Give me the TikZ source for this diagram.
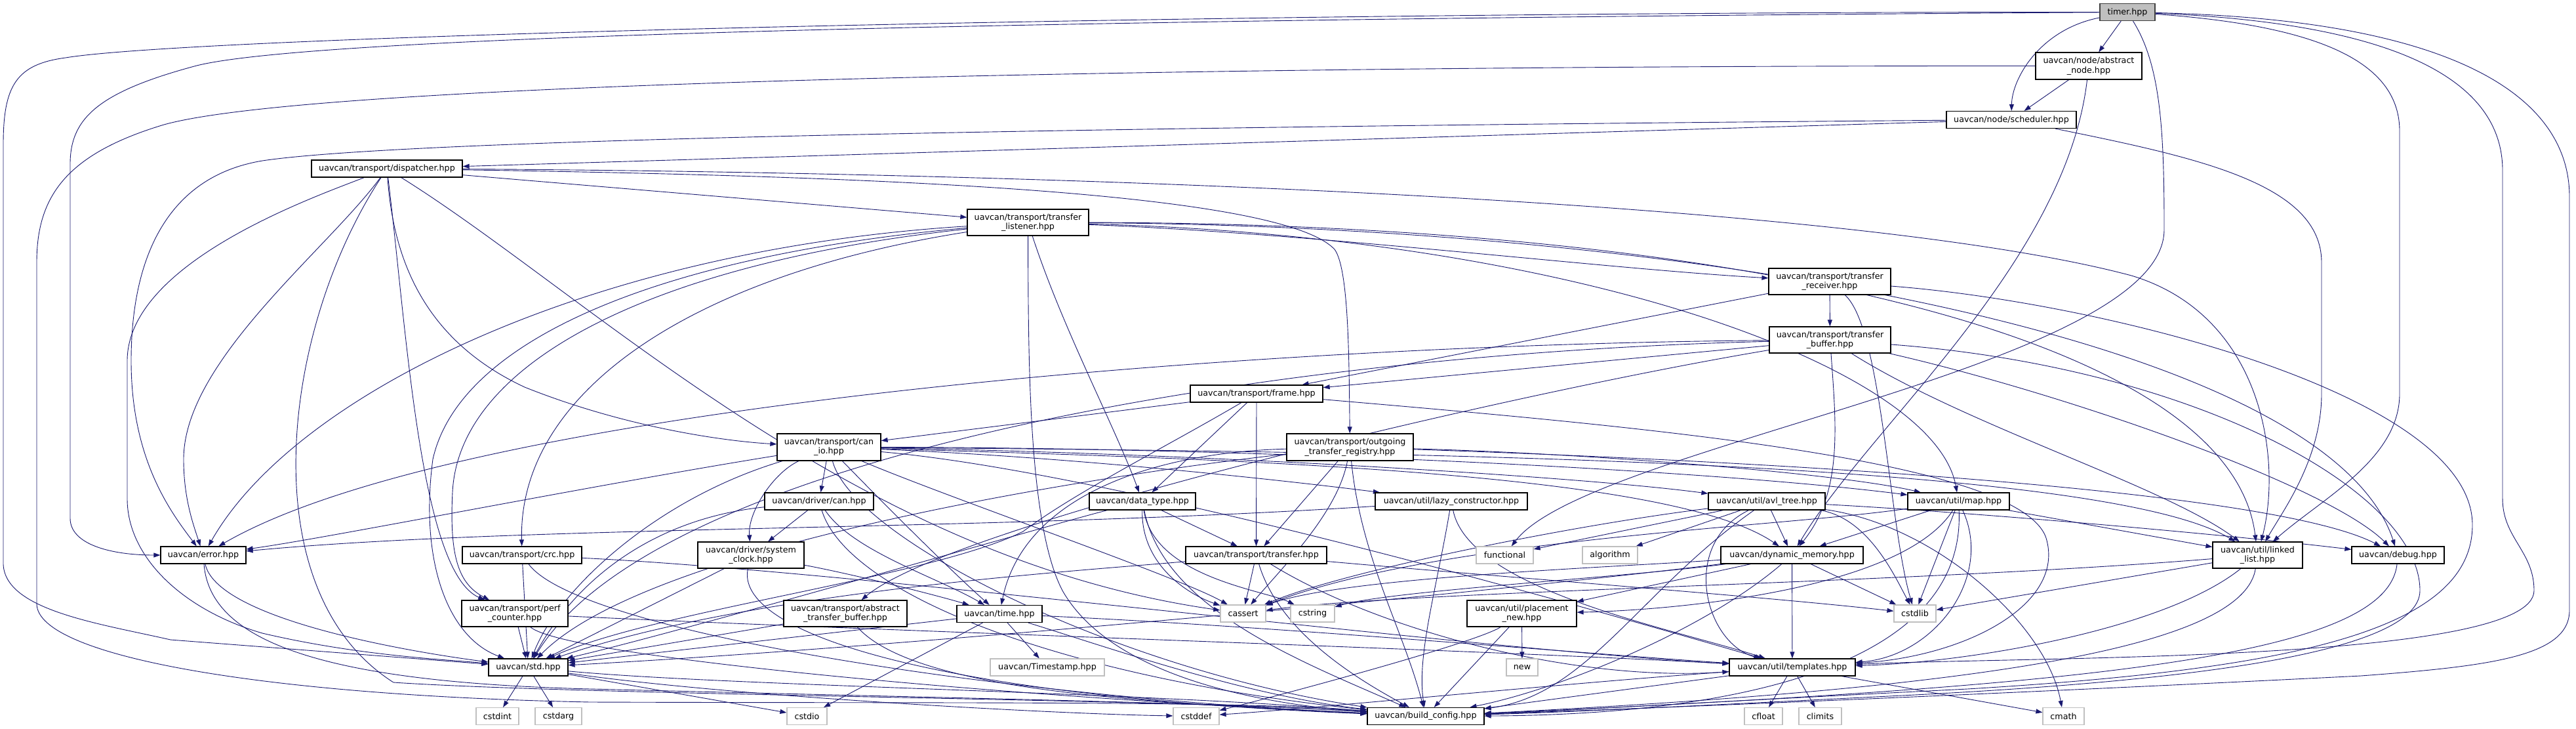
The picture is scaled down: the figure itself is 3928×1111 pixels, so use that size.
\documentclass[tikz,border=0pt]{standalone}
\usepackage{fontspec}
\setmainfont{DejaVu Sans}
\usetikzlibrary{arrows.meta,backgrounds}
\definecolor{edgeblue}{HTML}{191970}
\definecolor{rootgray}{HTML}{BFBFBF}
\definecolor{sysgray}{HTML}{BFBFBF}
\tikzset{
  hdr/.style={draw=black, fill=white, line width=1.2pt, inner sep=2pt,
    minimum height=26pt, align=center, font=\fontsize{12.7}{14.5}\selectfont},
  sys/.style={hdr, draw=sysgray},
  dep/.style={draw=edgeblue, line width=0.9pt, -{Triangle[length=10pt,width=7pt]}},
}
\begin{document}
\begin{tikzpicture}[x=1pt,y=-1pt]
\useasboundingbox (0,0) rectangle (3928,1111);
% headers, top to bottom
\node[hdr,fill=rootgray,draw=black!75,minimum width=84pt] (timer) at (3244,18.5) {timer.hpp};
\node[hdr,minimum width=162pt,minimum height=41pt] (absnode) at (3185,100.5) {uavcan/node/abstract\\\_node.hpp};
\node[hdr,minimum width=198pt] (sched) at (3067,182.5) {uavcan/node/scheduler.hpp};
\node[hdr,minimum width=230pt] (disp) at (590,257) {uavcan/transport/dispatcher.hpp};
\node[hdr,minimum width=185pt,minimum height=40pt] (tlist) at (1567.5,339) {uavcan/transport/transfer\\\_listener.hpp};
\node[hdr,minimum width=186pt,minimum height=40pt] (trecv) at (2790,429) {uavcan/transport/transfer\\\_receiver.hpp};
\node[hdr,minimum width=185pt,minimum height=40pt] (tbuf) at (2790.5,518) {uavcan/transport/transfer\\\_buffer.hpp};
\node[hdr,minimum width=202pt] (frame) at (1916,600) {uavcan/transport/frame.hpp};
\node[hdr,minimum width=158pt,minimum height=41pt] (canio) at (1264,681.5) {uavcan/transport/can\\\_io.hpp};
\node[hdr,minimum width=193pt,minimum height=41pt] (otr) at (2058.5,681.5) {uavcan/transport/outgoing\\\_transfer\_registry.hpp};
\node[hdr,minimum width=166pt] (can) at (1249,764) {uavcan/driver/can.hpp};
\node[hdr,minimum width=162pt] (dtype) at (1742,764) {uavcan/data\_type.hpp};
\node[hdr,minimum width=232pt] (lazy) at (2213,764) {uavcan/util/lazy\_constructor.hpp};
\node[hdr,minimum width=178pt] (avl) at (2694,764) {uavcan/util/avl\_tree.hpp};
\node[hdr,minimum width=155pt] (map) at (2986.5,764) {uavcan/util/map.hpp};
\node[hdr,minimum width=130pt] (error) at (310,846) {uavcan/error.hpp};
\node[hdr,minimum width=182pt] (crc) at (796,846) {uavcan/transport/crc.hpp};
\node[hdr,minimum width=162pt,minimum height=40pt] (sysclk) at (1145,846) {uavcan/driver/system\\\_clock.hpp};
\node[hdr,minimum width=215pt] (transfer) at (1915.5,846) {uavcan/transport/transfer.hpp};
\node[sys,minimum width=87pt] (functional) at (2294.5,846) {functional};
\node[sys,minimum width=84pt] (algorithm) at (2455,846) {algorithm};
\node[hdr,minimum width=217pt] (dynmem) at (2732.5,846) {uavcan/dynamic\_memory.hpp};
\node[hdr,minimum width=137pt,minimum height=40pt] (llist) at (3442.5,846) {uavcan/util/linked\\\_list.hpp};
\node[hdr,minimum width=141pt] (debug) at (3656.5,846) {uavcan/debug.hpp};
\node[hdr,minimum width=162pt,minimum height=40pt] (perf) at (785,935) {uavcan/transport/perf\\\_counter.hpp};
\node[hdr,minimum width=188pt,minimum height=40pt] (atb) at (1289,935) {uavcan/transport/abstract\\\_transfer\_buffer.hpp};
\node[hdr,minimum width=130pt] (time) at (1524,935.5) {uavcan/time.hpp};
\node[sys,minimum width=69pt] (cassert) at (1895.5,935) {cassert};
\node[sys,minimum width=67pt] (cstring) at (2001.5,935) {cstring};
\node[hdr,minimum width=167pt,minimum height=40pt] (pnew) at (2320.5,935) {uavcan/util/placement\\\_new.hpp};
\node[sys,minimum width=64pt] (cstdlib) at (2920,935) {cstdlib};
\node[hdr,minimum width=121pt] (std) at (805.5,1017) {uavcan/std.hpp};
\node[sys,minimum width=174pt] (tstamp) at (1597,1017) {uavcan/Timestamp.hpp};
\node[sys,minimum width=48pt] (new) at (2321,1017) {new};
\node[hdr,minimum width=192pt] (templ) at (2733,1017) {uavcan/util/templates.hpp};
\node[sys,minimum width=65pt] (cstdint) at (758.5,1091.5) {cstdint};
\node[sys,minimum width=71pt] (cstdarg) at (851.5,1091.5) {cstdarg};
\node[sys,minimum width=61pt] (cstdio) at (1230.5,1091.5) {cstdio};
\node[sys,minimum width=70pt] (cstddef) at (1824,1091.5) {cstddef};
\node[hdr,minimum width=178pt] (bcfg) at (2174,1091.5) {uavcan/build\_config.hpp};
\node[sys,minimum width=58pt] (cfloat) at (2689,1091.5) {cfloat};
\node[sys,minimum width=65pt] (climits) at (2775.5,1091.5) {climits};
\node[sys,minimum width=63pt] (cmath) at (3146.5,1091.5) {cmath};

\begin{scope}[on background layer]
\fill[white] (0,0) rectangle (3928,1111);
% timer.hpp
\draw[dep] (timer) -- (absnode);
\draw[dep] (timer) .. controls (3110,45) and (3068,120) .. (sched);
\draw[dep] (timer) .. controls (1800,18) and (300,55) .. (100,88) .. controls (25,98) and (5,130) .. (5,220) -- (5,860) .. controls (8,930) and (150,950) .. (260,975) -- (std);
\draw[dep] (timer) .. controls (1800,28) and (500,50) .. (300,100) .. controls (150,140) and (107,180) .. (107,250) -- (107,790) .. controls (107,830) and (170,846) .. (error);
\draw[dep] (timer) .. controls (3295,100) and (3300,200) .. (3300,350) .. controls (3300,560) and (2420,680) .. (functional);
\draw[dep] (timer) .. controls (3550,40) and (3659,100) .. (3659,200) -- (3659,600) .. controls (3659,700) and (3540,760) .. (llist);
\draw[dep] (timer) .. controls (3650,35) and (3816,120) .. (3816,260) -- (3816,760) .. controls (3816,820) and (3864,840) .. (3864,900) .. controls (3864,1010) and (3100,1000) .. (templ);
\draw[dep] (timer) .. controls (3750,30) and (3918,150) .. (3918,300) -- (3918,930) .. controls (3918,1000) and (3800,1015) .. (3600,1030) .. controls (3000,1060) and (2500,1080) .. (bcfg);
% abstract_node.hpp, scheduler.hpp
\draw[dep] (absnode) -- (sched);
\draw[dep] (absnode) .. controls (3150,400) and (2850,650) .. (dynmem);
\draw[dep] (absnode) .. controls (2000,100) and (500,120) .. (250,190) .. controls (100,235) and (56,300) .. (56,400) -- (56,920) .. controls (56,1000) and (400,1060) .. (900,1070) .. controls (1500,1072) and (1900,1068) .. (bcfg);
\draw[dep] (sched) -- (disp);
\draw[dep] (sched) .. controls (1500,195) and (600,215) .. (400,245) .. controls (250,270) and (200,400) .. (200,550) .. controls (200,700) and (260,780) .. (error);
\draw[dep] (sched) .. controls (3350,240) and (3540,280) .. (3540,400) -- (3540,600) .. controls (3540,700) and (3480,780) .. (llist);
% dispatcher.hpp
\draw[dep] (disp) -- (tlist);
\draw[dep] (disp) .. controls (1300,268) and (1950,290) .. (2035,380) .. controls (2057,410) and (2057,550) .. (otr);
\draw[dep] (disp) .. controls (1500,262) and (2800,300) .. (3250,420) .. controls (3450,480) and (3480,700) .. (llist);
\draw[dep] (disp) .. controls (600,400) and (650,520) .. (800,590) .. controls (950,650) and (1100,672) .. (canio);
\draw[dep] (disp) .. controls (500,380) and (280,550) .. (280,700) .. controls (280,760) and (295,800) .. (error);
\draw[dep] (disp) .. controls (480,300) and (194,400) .. (194,550) -- (194,760) .. controls (194,850) and (280,930) .. (400,965) .. controls (550,1000) and (680,1005) .. (std);
\draw[dep] (disp) .. controls (620,500) and (640,870) .. (perf);
\draw[dep] (disp) .. controls (900,450) and (1300,850) .. (cassert);
\draw[dep] (disp) .. controls (430,500) and (380,900) .. (600,1040) .. controls (900,1060) and (1800,1065) .. (bcfg);
% transfer_listener.hpp
\draw[dep] (tlist) .. controls (2000,355) and (2450,410) .. (trecv);
\draw[dep] (tlist) .. controls (900,380) and (450,600) .. (error);
\draw[dep] (tlist) .. controls (1000,390) and (700,520) .. (660,700) .. controls (640,850) and (680,970) .. (std);
\draw[dep] (tlist) .. controls (1000,400) and (700,550) .. (690,750) .. controls (685,850) and (700,890) .. (perf);
\draw[dep] (tlist) .. controls (1050,420) and (790,600) .. (crc);
\draw[dep] (tlist) .. controls (1620,500) and (1700,650) .. (dtype);
\draw[dep] (tlist) .. controls (1568,550) and (1568,800) .. (1620,900) .. controls (1700,1040) and (1950,1075) .. (bcfg);
\draw[dep] (tlist) .. controls (2600,340) and (3400,500) .. (llist);
\draw[dep] (tlist) .. controls (2400,360) and (2950,560) .. (map);
\draw[dep] (tlist) .. controls (2600,345) and (3550,520) .. (debug);
% transfer_receiver.hpp, transfer_buffer.hpp
\draw[dep] (trecv) -- (tbuf);
\draw[dep] (trecv) -- (frame);
\draw[dep] (trecv) .. controls (2870,500) and (2880,800) .. (cstdlib);
\draw[dep] (trecv) .. controls (3200,460) and (3770,600) .. (3770,800) .. controls (3770,960) and (3500,1020) .. (3000,1050) .. controls (2600,1070) and (2350,1085) .. (bcfg);
\draw[dep] (tbuf) -- (frame);
\draw[dep] (tbuf) .. controls (1900,525) and (700,620) .. (error);
\draw[dep] (tbuf) .. controls (1900,540) and (1000,700) .. (std);
\draw[dep] (tbuf) .. controls (2300,600) and (1450,800) .. (atb);
\draw[dep] (tbuf) .. controls (2800,650) and (2810,750) .. (dynmem);
\draw[dep] (tbuf) .. controls (3000,650) and (3300,740) .. (llist);
\draw[dep] (tbuf) .. controls (3150,600) and (3550,740) .. (debug);
\draw[dep] (tbuf) .. controls (3350,560) and (3690,750) .. (3690,900) .. controls (3690,1000) and (3300,1040) .. (2900,1060) .. controls (2600,1075) and (2400,1085) .. (bcfg);
% frame.hpp
\draw[dep] (frame) -- (canio);
\draw[dep] (frame) -- (dtype);
\draw[dep] (frame) -- (transfer);
\draw[dep] (frame) .. controls (1780,680) and (1640,750) .. (1560,810) .. controls (1420,880) and (1000,930) .. (std);
\draw[dep] (frame) .. controls (2500,650) and (3080,700) .. (3120,820) .. controls (3150,920) and (3000,1000) .. (templ);
% can_io.hpp
\draw[dep] (canio) -- (can);
\draw[dep] (canio) .. controls (1180,720) and (1140,780) .. (sysclk);
\draw[dep] (canio) .. controls (900,740) and (500,820) .. (error);
\draw[dep] (canio) .. controls (1000,760) and (850,900) .. (std);
\draw[dep] (canio) .. controls (1450,760) and (1800,880) .. (cassert);
\draw[dep] (canio) .. controls (1600,695) and (1900,725) .. (lazy);
\draw[dep] (canio) .. controls (1800,690) and (2400,725) .. (avl);
\draw[dep] (canio) .. controls (1900,682) and (2600,715) .. (map);
\draw[dep] (canio) .. controls (2100,688) and (3200,700) .. (llist);
\draw[dep] (canio) .. controls (1900,700) and (2550,720) .. (dynmem);
\draw[dep] (canio) .. controls (1700,720) and (2400,920) .. (templ);
\draw[dep] (canio) .. controls (1350,770) and (1450,870) .. (time);
\draw[dep] (canio) .. controls (1300,820) and (1700,1020) .. (bcfg);
% outgoing_transfer_registry.hpp
\draw[dep] (otr) -- (transfer);
\draw[dep] (otr) .. controls (1750,690) and (1560,760) .. (time);
\draw[dep] (otr) .. controls (1750,715) and (1000,820) .. (std);
\draw[dep] (otr) .. controls (2400,690) and (2800,720) .. (map);
\draw[dep] (otr) .. controls (2600,700) and (3450,740) .. (debug);
\draw[dep] (otr) .. controls (2040,780) and (1960,860) .. (cassert);
\draw[dep] (otr) .. controls (2075,850) and (2140,960) .. (bcfg);
% driver/can.hpp, driver/system_clock.hpp
\draw[dep] (can) -- (sysclk);
\draw[dep] (can) .. controls (1300,840) and (1430,880) .. (time);
\draw[dep] (can) .. controls (1000,790) and (880,880) .. (std);
\draw[dep] (can) .. controls (1290,900) and (1600,1030) .. (bcfg);
\draw[dep] (sysclk) -- (std);
\draw[dep] (sysclk) .. controls (1300,875) and (1420,905) .. (time);
\draw[dep] (sysclk) .. controls (1120,960) and (1400,1060) .. (bcfg);
% data_type.hpp, lazy_constructor.hpp
\draw[dep] (dtype) -- (transfer);
\draw[dep] (dtype) .. controls (1740,860) and (1810,905) .. (cassert);
\draw[dep] (dtype) .. controls (1760,880) and (1930,900) .. (cstring);
\draw[dep] (dtype) .. controls (1600,800) and (1050,960) .. (std);
\draw[dep] (dtype) .. controls (1775,930) and (1990,1010) .. (bcfg);
\draw[dep] (lazy) .. controls (1500,810) and (800,800) .. (error);
\draw[dep] (lazy) .. controls (2240,900) and (2560,960) .. (templ);
\draw[dep] (lazy) .. controls (2190,900) and (2160,1000) .. (bcfg);
% avl_tree.hpp
\draw[dep] (avl) -- (functional);
\draw[dep] (avl) -- (algorithm);
\draw[dep] (avl) -- (dynmem);
\draw[dep] (avl) .. controls (2850,790) and (2890,880) .. (cstdlib);
\draw[dep] (avl) .. controls (2400,800) and (2050,870) .. (cassert);
\draw[dep] (avl) .. controls (2950,800) and (3120,950) .. (cmath);
\draw[dep] (avl) .. controls (2560,830) and (2600,980) .. (templ);
\draw[dep] (avl) .. controls (3000,780) and (3400,815) .. (debug);
\draw[dep] (avl) .. controls (2500,900) and (2420,1060) .. (bcfg);
% map.hpp
\draw[dep] (map) -- (dynmem);
\draw[dep] (map) -- (llist);
\draw[dep] (map) -- (cstdlib);
\draw[dep] (map) .. controls (3040,880) and (2950,1000) .. (templ);
\draw[dep] (map) .. controls (2900,900) and (2550,930) .. (pnew);
\draw[dep] (map) .. controls (2700,805) and (2200,820) .. (cassert);
\draw[dep] (map) .. controls (3000,1060) and (2500,1090) .. (bcfg);
% error.hpp, crc.hpp, transfer.hpp
\draw[dep] (error) .. controls (330,940) and (600,990) .. (std);
\draw[dep] (error) .. controls (320,980) and (500,1040) .. (900,1050) .. controls (1500,1065) and (1900,1072) .. (bcfg);
\draw[dep] (crc) -- (std);
\draw[dep] (crc) .. controls (1300,870) and (2250,990) .. (templ);
\draw[dep] (crc) .. controls (880,960) and (1500,1060) .. (bcfg);
\draw[dep] (transfer) -- (cassert);
\draw[dep] (transfer) .. controls (1650,870) and (1150,900) .. (std);
\draw[dep] (transfer) .. controls (2300,880) and (2700,910) .. (cstdlib);
\draw[dep] (transfer) .. controls (2100,960) and (2400,1040) .. (templ);
\draw[dep] (transfer) .. controls (1950,960) and (2060,1030) .. (bcfg);
% dynamic_memory.hpp, linked_list.hpp, debug.hpp
\draw[dep] (dynmem) -- (cstdlib);
\draw[dep] (dynmem) -- (templ);
\draw[dep] (dynmem) -- (pnew);
\draw[dep] (dynmem) .. controls (2300,900) and (1400,985) .. (std);
\draw[dep] (dynmem) .. controls (2450,865) and (2050,880) .. (cassert);
\draw[dep] (dynmem) .. controls (2480,880) and (2120,900) .. (cstring);
\draw[dep] (dynmem) .. controls (2600,960) and (2380,1050) .. (bcfg);
\draw[dep] (llist) -- (cstdlib);
\draw[dep] (llist) .. controls (2900,890) and (2150,900) .. (cassert);
\draw[dep] (llist) .. controls (3300,960) and (3000,1010) .. (templ);
\draw[dep] (llist) .. controls (3420,990) and (3000,1050) .. (bcfg);
\draw[dep] (debug) .. controls (3640,1000) and (3200,1045) .. (bcfg);
% perf_counter.hpp, abstract_transfer_buffer.hpp, time.hpp
\draw[dep] (perf) -- (std);
\draw[dep] (perf) .. controls (1300,960) and (2250,990) .. (templ);
\draw[dep] (perf) .. controls (860,1000) and (1500,1060) .. (bcfg);
\draw[dep] (atb) -- (std);
\draw[dep] (atb) .. controls (1400,1060) and (1800,1072) .. (bcfg);
\draw[dep] (time) -- (std);
\draw[dep] (time) -- (cstdio);
\draw[dep] (time) -- (tstamp);
\draw[dep] (time) .. controls (1950,955) and (2400,995) .. (templ);
\draw[dep] (time) .. controls (1700,990) and (1900,1060) .. (bcfg);
% placement_new.hpp, templates.hpp, std.hpp
\draw[dep] (pnew) -- (new);
\draw[dep] (pnew) .. controls (2250,980) and (1950,1060) .. (cstddef);
\draw[dep] (pnew) -- (bcfg);
\draw[dep] (templ) -- (cfloat);
\draw[dep] (templ) -- (climits);
\draw[dep] (templ) -- (cmath);
\draw[dep] (templ) .. controls (2400,1040) and (2000,1080) .. (cstddef);
\draw[dep] (templ) -- (bcfg);
\draw[dep] (std) -- (cstdint);
\draw[dep] (std) -- (cstdarg);
\draw[dep] (std) -- (cstdio);
\draw[dep] (std) .. controls (1100,1060) and (1600,1088) .. (cstddef);
\draw[dep] (std) .. controls (1100,1045) and (1750,1055) .. (bcfg);
\end{scope}
\end{tikzpicture}
\end{document}
